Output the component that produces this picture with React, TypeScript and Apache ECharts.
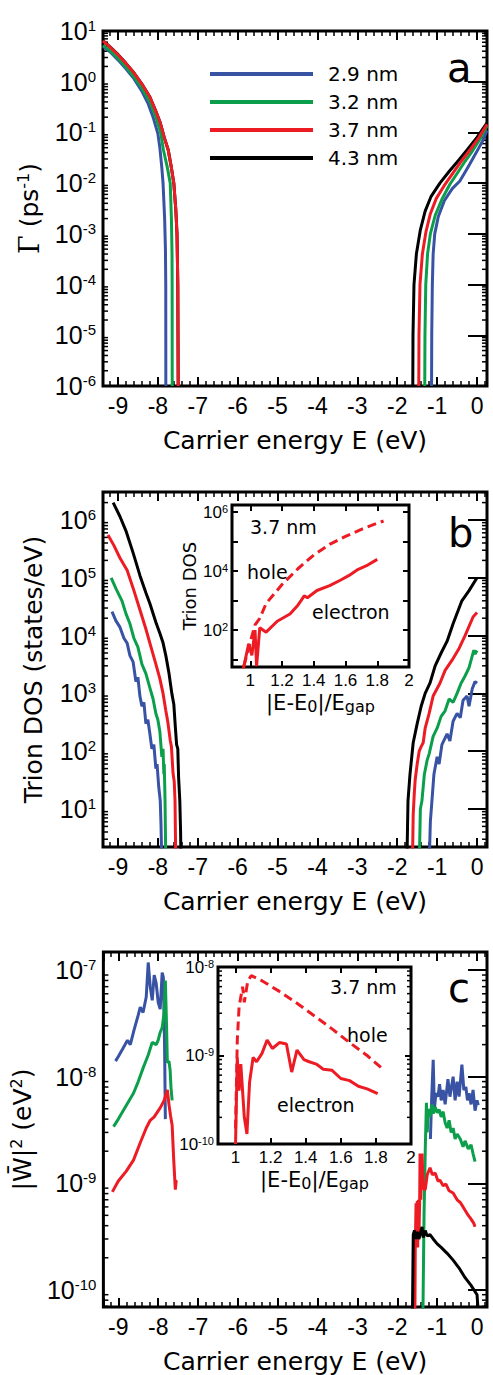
import React, { useEffect, useRef } from 'react';
import * as echarts from 'echarts';

const SIZES = ['2.9 nm', '3.2 nm', '3.7 nm', '4.3 nm'];
const COLORS = ['#3953a4', '#0c9f4b', '#ed1c24', '#000000'];

const E_RANGE = [-9.375, 0.25];
const A_RANGE = [1e-6, 10];
const B_RANGE = [2.2, 3.05e6];
const C_RANGE = [6.9e-11, 1.48e-7];
const IB_X = [0.885, 2.0];
const IB_Y = [5.6, 1.74e6];
const IC_X = [0.9, 2.0];
const IC_Y = [1e-10, 1e-8];

const X_TITLE = 'Carrier energy E (eV)';
const INSET_X_TITLE = '|E-E{sub|0}|/E{sub|gap}';

// ---------- Panel a : Gamma (ps^-1) ----------
const A_HOLE_29 = [[-9.375, 5.0], [-9.2, 3.9], [-9.0, 2.7], [-8.8, 1.8], [-8.6, 1.15], [-8.4, 0.65], [-8.25, 0.38], [-8.12, 0.2], [-8.0, 0.095], [-7.95, 0.05], [-7.9, 0.02], [-7.87, 0.01], [-7.83, 2e-3], [-7.81, 5e-4], [-7.802, 1e-4], [-7.8, 1e-6]];
const A_HOLE_32 = [[-9.375, 5.2], [-9.2, 4.1], [-9.0, 2.9], [-8.8, 1.95], [-8.6, 1.25], [-8.4, 0.75], [-8.2, 0.4], [-8.05, 0.2], [-7.93, 0.1], [-7.86, 0.045], [-7.76, 0.02], [-7.69, 0.01], [-7.66, 2e-3], [-7.645, 4e-4], [-7.642, 1e-4], [-7.64, 1e-6]];
const A_HOLE_37 = [[-9.375, 6.4], [-9.2, 4.8], [-9.0, 3.4], [-8.8, 2.3], [-8.6, 1.5], [-8.4, 0.9], [-8.2, 0.5], [-8.05, 0.26], [-7.94, 0.155], [-7.84, 0.08], [-7.74, 0.045], [-7.66, 0.02], [-7.6, 0.01], [-7.55, 3e-3], [-7.52, 1e-3], [-7.5, 1e-4], [-7.495, 1e-5], [-7.49, 1e-6]];
const A_HOLE_43 = [[-9.375, 6.5], [-9.2, 4.85], [-9.0, 3.45], [-8.8, 2.3], [-8.6, 1.5], [-8.4, 0.9], [-8.2, 0.5], [-8.05, 0.26], [-7.94, 0.155], [-7.84, 0.08], [-7.74, 0.045], [-7.66, 0.02], [-7.6, 0.01], [-7.55, 3e-3], [-7.52, 1e-3], [-7.5, 1e-4], [-7.495, 1e-5], [-7.49, 1e-6]];

const A_ELEC_29 = [[-1.14, 1e-6], [-1.135, 1e-5], [-1.12, 1e-4], [-1.1, 4e-4], [-1.06, 1e-3], [-0.97, 2.2e-3], [-0.82, 4.5e-3], [-0.62, 7.8e-3], [-0.43, 1.1e-2], [-0.22, 2.1e-2], [-0.02, 4e-2], [0.15, 7e-2], [0.25, 0.11]];
const A_ELEC_32 = [[-1.31, 1e-6], [-1.305, 1e-5], [-1.285, 1e-4], [-1.24, 4e-4], [-1.17, 1.0e-3], [-1.05, 2.3e-3], [-0.88, 4.8e-3], [-0.68, 9.5e-3], [-0.5, 1.55e-2], [-0.3, 2.7e-2], [-0.1, 4.5e-2], [0.1, 8e-2], [0.25, 0.135]];
const A_ELEC_37 = [[-1.46, 1e-6], [-1.455, 1e-5], [-1.43, 1e-4], [-1.37, 4e-4], [-1.28, 1.1e-3], [-1.17, 2.5e-3], [-1.02, 5e-3], [-0.82, 9e-3], [-0.6, 1.6e-2], [-0.38, 2.8e-2], [-0.18, 4.5e-2], [0.05, 8e-2], [0.25, 0.145]];
const A_ELEC_43 = [[-1.61, 1e-6], [-1.605, 1e-5], [-1.58, 1e-4], [-1.52, 4e-4], [-1.42, 1.2e-3], [-1.3, 2.8e-3], [-1.15, 5.5e-3], [-0.93, 1e-2], [-0.7, 1.7e-2], [-0.45, 2.9e-2], [-0.25, 4.5e-2], [0, 8e-2], [0.25, 0.155]];

// ---------- Panel b : Trion DOS (states/eV) ----------
const B_HOLE_29 = [[-9.15, 2.6e4], [-9.05, 1.8e4], [-8.95, 1.4e4], [-8.85, 9e3], [-8.77, 7.4e3], [-8.7, 4.5e3], [-8.62, 3.5e3], [-8.55, 1.6e3], [-8.5, 1.9e3], [-8.45, 9e2], [-8.4, 6e2], [-8.35, 7e2], [-8.3, 3e2], [-8.25, 3.5e2], [-8.2, 2e2], [-8.15, 1.1e2], [-8.1, 1.3e2], [-8.05, 5e1], [-8.02, 6e1], [-7.98, 2.5e1], [-7.94, 1.4e1], [-7.92, 5], [-7.9, 1]];
const B_HOLE_32 = [[-9.17, 1.0e5], [-9.05, 6.5e4], [-8.9, 4e4], [-8.8, 2.4e4], [-8.7, 1.6e4], [-8.6, 9e3], [-8.5, 6.3e3], [-8.4, 3.2e3], [-8.3, 2.2e3], [-8.2, 1.25e3], [-8.12, 8e2], [-8.05, 4.5e2], [-8.0, 3.5e2], [-7.95, 2.2e2], [-7.9, 8e1], [-7.87, 1.1e2], [-7.85, 4e1], [-7.84, 6e1], [-7.82, 1.4e1], [-7.81, 4], [-7.8, 1]];
const B_HOLE_37 = [[-9.25, 5.5e5], [-9.1, 3.6e5], [-8.95, 2.2e5], [-8.77, 1.35e5], [-8.6, 6e4], [-8.45, 2.8e4], [-8.3, 1.3e4], [-8.2, 7.4e3], [-8.05, 3.2e3], [-7.95, 1.8e3], [-7.87, 1.0e3], [-7.8, 5e2], [-7.75, 3.2e2], [-7.69, 1.55e2], [-7.66, 1.2e2], [-7.62, 4.2e1], [-7.59, 3e1], [-7.57, 1.4e1], [-7.56, 4], [-7.55, 1]];
const B_HOLE_43 = [[-9.12, 2.0e6], [-8.95, 1.15e6], [-8.8, 6.5e5], [-8.62, 2.7e5], [-8.45, 1.1e5], [-8.3, 5.5e4], [-8.2, 3.6e4], [-8.05, 1.7e4], [-7.95, 1.1e4], [-7.87, 7.5e3], [-7.8, 4.5e3], [-7.72, 2.2e3], [-7.65, 1.0e3], [-7.6, 6.5e2], [-7.56, 2.5e2], [-7.53, 1.3e2], [-7.5, 1.1e2], [-7.48, 3.5e1], [-7.45, 1.4e1], [-7.43, 4], [-7.42, 1]];

const B_ELEC_29 = [[-1.2, 1], [-1.17, 6], [-1.13, 14], [-1.08, 40], [-1.0, 80], [-0.95, 60], [-0.88, 130], [-0.75, 200], [-0.68, 150], [-0.6, 330], [-0.5, 450], [-0.42, 380], [-0.35, 760], [-0.25, 900], [-0.2, 600], [-0.12, 1200], [-0.05, 1600], [0.0, 1500]];
const B_ELEC_32 = [[-1.45, 1], [-1.42, 10], [-1.38, 14], [-1.32, 40], [-1.25, 70], [-1.2, 90], [-1.1, 180], [-1.0, 250], [-0.9, 400], [-0.8, 500], [-0.7, 800], [-0.6, 700], [-0.5, 1000], [-0.4, 1500], [-0.3, 2000], [-0.2, 2800], [-0.08, 5.6e3], [-0.05, 4.8e3], [0.0, 5.5e3]];
const B_ELEC_37 = [[-1.62, 1], [-1.6, 8], [-1.57, 20], [-1.55, 32], [-1.5, 60], [-1.45, 100], [-1.4, 120], [-1.35, 140], [-1.3, 250], [-1.2, 450], [-1.1, 900], [-0.93, 1.5e3], [-0.8, 2.5e3], [-0.6, 4e3], [-0.45, 6e3], [-0.3, 1e4], [-0.1, 2.1e4], [0.0, 2.5e4]];
const B_ELEC_43 = [[-1.76, 1], [-1.73, 14], [-1.68, 40], [-1.6, 140], [-1.5, 300], [-1.4, 600], [-1.3, 1000], [-1.18, 1.5e3], [-1.05, 3e3], [-0.9, 5e3], [-0.75, 8e3], [-0.6, 1.6e4], [-0.38, 4e4], [-0.2, 6e4], [0.0, 1.0e5]];

// inset b : 3.7 nm trion DOS vs |E-E0|/Egap
const IB_HOLE = [[0.96, 6], [1.0, 40], [1.03, 150], [1.06, 250], [1.1, 800], [1.2, 3500], [1.3, 1.2e4], [1.4, 3.5e4], [1.5, 8e4], [1.6, 1.5e5], [1.7, 2.6e5], [1.8, 4.2e5], [1.84, 5e5]];
const IB_ELEC = [[0.955, 4.5], [0.99, 34], [1.01, 14], [1.03, 100], [1.04, 6], [1.06, 120], [1.1, 85], [1.17, 200], [1.25, 350], [1.3, 700], [1.32, 1000], [1.34, 1450], [1.36, 1250], [1.42, 2200], [1.5, 3200], [1.57, 5000], [1.62, 7000], [1.68, 1.15e4], [1.74, 1.6e4], [1.8, 2.5e4]];

// ---------- Panel c : |W|^2 (eV^2) ----------
const C_HOLE_29 = [[-9.07, 1.4e-8], [-9.0, 1.55e-8], [-8.9, 1.8e-8], [-8.77, 2.2e-8], [-8.7, 2.0e-8], [-8.6, 2.8e-8], [-8.5, 3.8e-8], [-8.45, 4.5e-8], [-8.38, 4.0e-8], [-8.3, 5.6e-8], [-8.25, 1.18e-7], [-8.2, 7e-8], [-8.15, 5.2e-8], [-8.1, 9e-8], [-8.05, 7.5e-8], [-8.0, 5e-8], [-7.95, 4.3e-8], [-7.9, 9.5e-8], [-7.87, 8.5e-8], [-7.84, 2e-8], [-7.82, 4e-9]];
const C_HOLE_32 = [[-9.12, 3.4e-9], [-9.0, 4.0e-9], [-8.85, 5.0e-9], [-8.62, 7e-9], [-8.5, 9e-9], [-8.37, 1.23e-8], [-8.25, 1.6e-8], [-8.15, 2.1e-8], [-8.05, 2.0e-8], [-8.0, 2.2e-8], [-7.95, 2.6e-8], [-7.9, 2.9e-8], [-7.85, 4e-8], [-7.82, 8e-8], [-7.79, 3e-8], [-7.77, 1.35e-8], [-7.73, 1.4e-8], [-7.7, 1.15e-8], [-7.68, 8e-9], [-7.65, 6e-9]];
const C_HOLE_37 = [[-9.15, 8.3e-10], [-9.0, 1.05e-9], [-8.8, 1.3e-9], [-8.62, 1.65e-9], [-8.45, 2.4e-9], [-8.3, 3.3e-9], [-8.2, 3.9e-9], [-8.1, 4.2e-9], [-7.95, 5.1e-9], [-7.85, 6e-9], [-7.77, 7.5e-9], [-7.73, 5.5e-9], [-7.69, 4.3e-9], [-7.65, 3.5e-9], [-7.61, 1.65e-9], [-7.59, 1.2e-9], [-7.57, 8.7e-10], [-7.55, 1.05e-9], [-7.53, 1.07e-9]];

const C_ELEC_29 = [[-1.17, 2.6e-9], [-1.14, 6e-9], [-1.1, 1.44e-8], [-1.07, 5e-9], [-1.03, 7e-9], [-0.98, 6.5e-9], [-0.94, 8.5e-9], [-0.9, 6e-9], [-0.85, 7.5e-9], [-0.8, 5.5e-9], [-0.73, 9.5e-9], [-0.68, 6.5e-9], [-0.6, 1.0e-8], [-0.55, 6e-9], [-0.5, 9e-9], [-0.45, 6.5e-9], [-0.38, 1.3e-8], [-0.33, 7.5e-9], [-0.28, 8e-9], [-0.24, 6e-9], [-0.2, 7e-9], [-0.15, 5.5e-9], [-0.1, 7.5e-9], [-0.05, 4.8e-9], [0.0, 6e-9], [0.03, 5.4e-9]];
const C_ELEC_32 = [[-1.36, 5e-11], [-1.33, 5e-10], [-1.3, 2e-9], [-1.27, 5.7e-9], [-1.25, 3e-9], [-1.22, 5e-9], [-1.18, 4.2e-9], [-1.13, 5.5e-9], [-1.1, 4.5e-9], [-1.05, 5.2e-9], [-1.0, 4.6e-9], [-0.95, 4.9e-9], [-0.9, 4.2e-9], [-0.85, 4.7e-9], [-0.8, 3.7e-9], [-0.75, 3.3e-9], [-0.7, 3.9e-9], [-0.65, 3.0e-9], [-0.6, 3.3e-9], [-0.55, 2.6e-9], [-0.5, 2.9e-9], [-0.42, 2.6e-9], [-0.35, 2.2e-9], [-0.3, 2.5e-9], [-0.22, 2.1e-9], [-0.15, 2.3e-9], [-0.1, 1.9e-9], [-0.05, 1.6e-9]];
const C_ELEC_37 = [[-1.56, 5e-11], [-1.55, 2.5e-10], [-1.53, 6.5e-10], [-1.52, 2.6e-10], [-1.5, 6.8e-10], [-1.49, 2.5e-10], [-1.47, 7e-10], [-1.46, 3e-10], [-1.44, 6.5e-10], [-1.43, 1.9e-9], [-1.41, 7e-10], [-1.38, 1.9e-9], [-1.35, 9e-10], [-1.3, 8.7e-10], [-1.25, 1.2e-9], [-1.18, 1.4e-9], [-1.12, 1.2e-9], [-1.05, 1.25e-9], [-0.98, 1.05e-9], [-0.93, 1.07e-9], [-0.85, 9.5e-10], [-0.78, 9.8e-10], [-0.7, 8.5e-10], [-0.6, 8.1e-10], [-0.5, 7e-10], [-0.42, 6.6e-10], [-0.35, 6e-10], [-0.25, 5.2e-10], [-0.15, 4.6e-10], [-0.08, 4.2e-10], [-0.05, 3.9e-10]];
const C_ELEC_43 = [[-1.62, 6e-11], [-1.6, 3.3e-10], [-1.57, 3.6e-10], [-1.54, 3.0e-10], [-1.5, 3.5e-10], [-1.46, 3.0e-10], [-1.42, 3.4e-10], [-1.38, 3.9e-10], [-1.35, 3.1e-10], [-1.3, 3.6e-10], [-1.25, 3.2e-10], [-1.18, 3.3e-10], [-1.1, 3.0e-10], [-1.0, 2.7e-10], [-0.9, 2.5e-10], [-0.75, 2.2e-10], [-0.6, 1.9e-10], [-0.45, 1.6e-10], [-0.3, 1.3e-10], [-0.15, 1.1e-10], [0.0, 9e-11], [0.02, 7e-11]];

// inset c : 3.7 nm |W|^2 vs |E-E0|/Egap
const IC_HOLE = [[1.0, 1.5e-10], [1.01, 1.5e-9], [1.02, 3.5e-9], [1.04, 6e-9], [1.05, 4e-9], [1.07, 7e-9], [1.09, 8e-9], [1.15, 7e-9], [1.25, 5.3e-9], [1.35, 3.9e-9], [1.45, 2.8e-9], [1.55, 2e-9], [1.65, 1.4e-9], [1.75, 1e-9], [1.84, 7e-10]];
const IC_ELEC = [[1.0, 1e-10], [1.01, 9.5e-10], [1.02, 4e-10], [1.03, 8e-10], [1.05, 2e-10], [1.065, 1.3e-10], [1.08, 5e-10], [1.1, 9.5e-10], [1.12, 8.5e-10], [1.15, 1.05e-9], [1.18, 1.5e-9], [1.21, 1.2e-9], [1.25, 1.4e-9], [1.29, 1.35e-9], [1.32, 6.5e-10], [1.35, 1.15e-9], [1.39, 9e-10], [1.42, 8.5e-10], [1.46, 8e-10], [1.5, 7e-10], [1.55, 6.8e-10], [1.6, 5.5e-10], [1.65, 5.2e-10], [1.7, 4.5e-10], [1.75, 4.2e-10], [1.81, 3.7e-10]];

const TICK_FONT = 'Liberation Sans, Arial, sans-serif';
const TEXT_FONT = 'DejaVu Sans, Verdana, sans-serif';

const GRIDS = [
  { left: 103, top: 31, width: 384, height: 355 },
  { left: 103, top: 492, width: 384, height: 355 },
  { left: 103, top: 952, width: 384, height: 355 },
  { left: 232, top: 505, width: 177, height: 162 },
  { left: 218, top: 967, width: 193, height: 177 },
];

function powLabel(step: number) {
  return (v: number) => {
    const l = Math.log10(v);
    const e = Math.round(l);
    if (Math.abs(l - e) > 1e-6 || Math.abs(e % step) > 0) return '';
    return `{b|10}{s|${e}}`;
  };
}

function minorLogTicks(lo: number, hi: number) {
  const out: number[] = [];
  for (let n = Math.floor(Math.log10(lo)) - 1; n <= Math.ceil(Math.log10(hi)); n++) {
    for (let k = 2; k <= 9; k++) {
      const v = k * Math.pow(10, n);
      if (v > lo * 1.001 && v < hi / 1.001) out.push(v);
    }
  }
  return out;
}

function buildOption() {
  const mainXLabel = (v: number) => (Math.abs(v - Math.round(v)) < 1e-6 ? String(Math.round(v) === 0 ? 0 : Math.round(v)) : '');
  const insetXLabel = (v: number) => {
    const r = Math.round(v * 5);
    return Math.abs(v * 5 - r) < 1e-6 ? String(r / 5) : '';
  };

  const tick = (len: number, w: number) => ({ show: true, inside: true, length: len, lineStyle: { color: '#000', width: w } });

  const xAxes: any[] = [];
  const yAxes: any[] = [];

  // main x axes (0-2 bottom, 3-5 top)
  for (const pos of ['bottom', 'top']) {
    for (let g = 0; g < 3; g++) {
      const bottom = pos === 'bottom';
      xAxes.push({
        type: 'value', gridIndex: g, position: pos, min: E_RANGE[0], max: E_RANGE[1], splitNumber: 10,
        axisLine: { show: false }, axisTick: tick(9, 2),
        minorTick: { show: true, splitNumber: 5, length: 5, lineStyle: { color: '#000', width: 1.5 } },
        splitLine: { show: false }, minorSplitLine: { show: false },
        axisLabel: { show: bottom, formatter: mainXLabel, fontSize: 23, fontFamily: TICK_FONT, color: '#000', margin: 8 },
        name: bottom ? X_TITLE : '', nameLocation: 'middle', nameGap: 42,
        nameTextStyle: { fontSize: 25, fontFamily: TEXT_FONT, color: '#000' },
      });
    }
  }
  // inset x axes (6,7 bottom; 8,9 top)
  const insetX = [IB_X, IC_X];
  for (const pos of ['bottom', 'top']) {
    for (let i = 0; i < 2; i++) {
      const bottom = pos === 'bottom';
      xAxes.push({
        type: 'value', gridIndex: 3 + i, position: pos, min: insetX[i][0], max: insetX[i][1], splitNumber: 6,
        axisLine: { show: false }, axisTick: tick(6, 2), splitLine: { show: false },
        axisLabel: { show: bottom, formatter: insetXLabel, fontSize: 17, fontFamily: TICK_FONT, color: '#000', margin: 5 },
        name: bottom ? INSET_X_TITLE : '', nameLocation: 'middle', nameGap: 25,
        nameTextStyle: {
          fontSize: 21, fontFamily: TEXT_FONT, color: '#000', lineHeight: 22,
          rich: { sub: { fontSize: 16, fontFamily: TEXT_FONT, color: '#000', verticalAlign: 'bottom', lineHeight: 16 } },
        },
      });
    }
  }

  const mainRich = {
    b: { fontSize: 25, fontFamily: TICK_FONT, color: '#000', lineHeight: 26 },
    s: { fontSize: 15, fontFamily: TICK_FONT, color: '#000', verticalAlign: 'top', lineHeight: 15 },
  };
  const insetRich = {
    b: { fontSize: 17, fontFamily: TICK_FONT, color: '#000', lineHeight: 18 },
    s: { fontSize: 11, fontFamily: TICK_FONT, color: '#000', verticalAlign: 'top', lineHeight: 11 },
  };
  const nameRich = {
    sup: { fontSize: 16, fontFamily: TEXT_FONT, color: '#000', verticalAlign: 'top', lineHeight: 16 },
    g: { fontSize: 27, fontFamily: 'DejaVu Serif, serif', color: '#000', lineHeight: 28 },
  };

  const mainY = [A_RANGE, B_RANGE, C_RANGE];
  const mainYNames = ['{g|Γ} (ps{sup|-1})', 'Trion DOS (states/eV)', '|W\u0304|{sup|2} (eV{sup|2})'];
  const mainYGaps = [60, 56, 58];
  for (const pos of ['left', 'right']) {
    for (let g = 0; g < 3; g++) {
      const left = pos === 'left';
      yAxes.push({
        type: 'log', logBase: 10, gridIndex: g, position: pos, min: mainY[g][0], max: mainY[g][1], splitNumber: 7,
        axisLine: { show: false }, axisTick: tick(9, 2), splitLine: { show: false },
        axisLabel: { show: left, formatter: powLabel(1), margin: 7, rich: mainRich },
        name: left ? mainYNames[g] : '', nameLocation: 'middle', nameRotate: 90, nameGap: mainYGaps[g],
        nameTextStyle: { fontSize: 25, fontFamily: TEXT_FONT, color: '#000', lineHeight: 28, rich: nameRich },
      });
    }
  }
  const insetY = [IB_Y, IC_Y];
  const insetYStep = [2, 1];
  for (const pos of ['left', 'right']) {
    for (let i = 0; i < 2; i++) {
      const left = pos === 'left';
      yAxes.push({
        type: 'log', logBase: 10, gridIndex: 3 + i, position: pos, min: insetY[i][0], max: insetY[i][1], splitNumber: 6,
        axisLine: { show: false }, axisTick: tick(6, 2), splitLine: { show: false },
        axisLabel: { show: left, formatter: powLabel(insetYStep[i]), margin: 4, rich: insetRich },
        name: left && i === 0 ? 'Trion DOS' : '', nameLocation: 'middle', nameRotate: 90, nameGap: 34,
        nameTextStyle: { fontSize: 18, fontFamily: TEXT_FONT, color: '#000' },
      });
    }
  }

  const line = (name: string, color: string, data: number[][], xi: number, yi: number, dashed = false) => ({
    type: 'line', name, data, xAxisIndex: xi, yAxisIndex: yi, symbol: 'none', showSymbol: false,
    itemStyle: { color }, lineStyle: { color, width: 3, type: dashed ? [9, 5] : 'solid' }, animation: false,
  });

  const series: any[] = [];
  // panel a: black under the others
  const aHole = [A_HOLE_29, A_HOLE_32, A_HOLE_37, A_HOLE_43];
  const aElec = [A_ELEC_29, A_ELEC_32, A_ELEC_37, A_ELEC_43];
  for (const i of [3, 0, 1, 2]) {
    series.push(line(SIZES[i], COLORS[i], aHole[i], 0, 0));
    series.push(line(SIZES[i], COLORS[i], aElec[i], 0, 0));
  }
  const bHole = [B_HOLE_29, B_HOLE_32, B_HOLE_37, B_HOLE_43];
  const bElec = [B_ELEC_29, B_ELEC_32, B_ELEC_37, B_ELEC_43];
  for (const i of [0, 1, 2, 3]) {
    series.push(line(SIZES[i], COLORS[i], bHole[i], 1, 1));
    series.push(line(SIZES[i], COLORS[i], bElec[i], 1, 1));
  }
  const cHole = [C_HOLE_29, C_HOLE_32, C_HOLE_37];
  const cElec = [C_ELEC_29, C_ELEC_32, C_ELEC_37, C_ELEC_43];
  for (const i of [0, 1, 2]) series.push(line(SIZES[i], COLORS[i], cHole[i], 2, 2));
  for (const i of [0, 1, 2, 3]) series.push(line(SIZES[i], COLORS[i], cElec[i], 2, 2));
  // insets
  series.push(line('hole', COLORS[2], IB_HOLE, 6, 6, true));
  series.push(line('electron', COLORS[2], IB_ELEC, 6, 6));
  series.push(line('hole', COLORS[2], IC_HOLE, 7, 7, true));
  series.push(line('electron', COLORS[2], IC_ELEC, 7, 7));

  // minor log ticks (left and right borders)
  const minorSets = [
    { xi: 0, yi: 0, xv: -5, r: A_RANGE, len: 5 },
    { xi: 1, yi: 1, xv: -5, r: B_RANGE, len: 5 },
    { xi: 2, yi: 2, xv: -5, r: C_RANGE, len: 5 },
    { xi: 7, yi: 7, xv: 1.5, r: IC_Y, len: 4 },
  ];
  for (const m of minorSets) {
    series.push({
      type: 'custom', xAxisIndex: m.xi, yAxisIndex: m.yi, silent: true, animation: false,
      data: minorLogTicks(m.r[0], m.r[1]).map((v) => [m.xv, v]),
      encode: { x: 0, y: 1 },
      renderItem: (params: any, api: any) => {
        const cs = params.coordSys;
        const y = api.coord([api.value(0), api.value(1)])[1];
        return {
          type: 'group',
          children: [
            { type: 'line', shape: { x1: cs.x, y1: y, x2: cs.x + m.len, y2: y }, style: { stroke: '#000', lineWidth: 1.5 } },
            { type: 'line', shape: { x1: cs.x + cs.width - m.len, y1: y, x2: cs.x + cs.width, y2: y }, style: { stroke: '#000', lineWidth: 1.5 } },
          ],
        };
      },
    });
  }

  const txt = (text: string, x: number, y: number, size: number, extra: any = {}) => ({
    type: 'text', x, y, silent: true, z: 10,
    style: { text, fontSize: size, fontFamily: TEXT_FONT, fill: '#000', align: 'left', verticalAlign: 'middle', ...extra },
  });

  return {
    animation: false,
    backgroundColor: '#fff',
    grid: GRIDS.map((g) => ({ ...g, show: true, borderColor: '#000', borderWidth: 3, backgroundColor: '#fff', containLabel: false })),
    xAxis: xAxes,
    yAxis: yAxes,
    legend: {
      data: SIZES, left: 205, top: 58, orient: 'vertical', icon: 'rect', itemWidth: 103, itemHeight: 4, itemGap: 6,
      selectedMode: false, itemStyle: { borderWidth: 0 },
      textStyle: { fontSize: 20, fontFamily: TEXT_FONT, color: '#000', lineHeight: 22, padding: [0, 0, 0, 10] },
    },
    series,
    graphic: [
      txt('a', 447, 68, 40),
      txt('b', 448, 533, 40),
      txt('c', 448, 988, 40),
      txt('3.7 nm', 250, 527, 19),
      txt('hole', 247, 572, 19),
      txt('electron', 312, 612, 19),
      txt('3.7 nm', 330, 987, 19),
      txt('hole', 347, 1035, 19),
      txt('electron', 277, 1105, 19),
    ],
  };
}

export default function App() {
  const ref = useRef<HTMLDivElement>(null);
  useEffect(() => {
    if (!ref.current) return;
    const chart = echarts.init(ref.current, null, { renderer: 'svg' });
    chart.setOption(buildOption() as any);
    return () => chart.dispose();
  }, []);
  return (
    <div
      ref={ref}
      style={{ position: 'absolute', left: 0, top: 0, width: 493, height: 1375, background: '#fff' }}
    />
  );
}
